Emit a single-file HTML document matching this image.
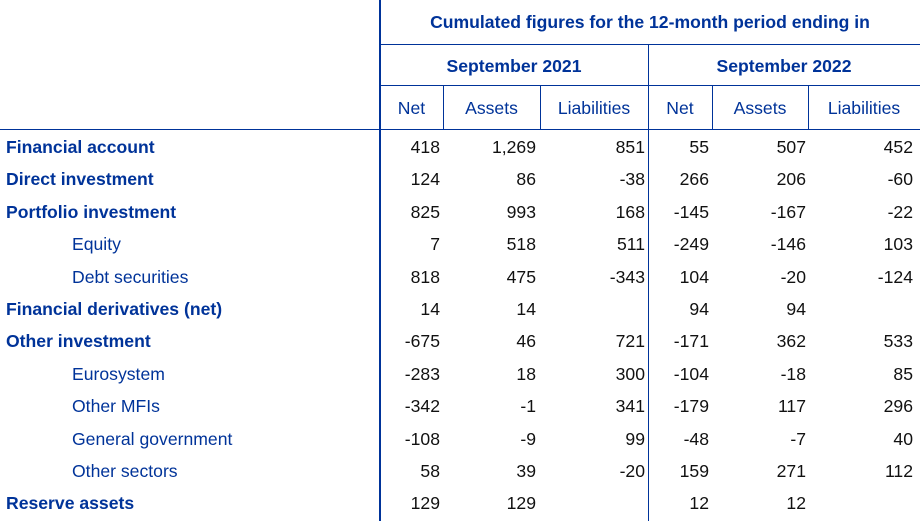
<!DOCTYPE html>
<html><head><meta charset="utf-8"><style>
body{margin:0;width:920px;height:521px;background:#fff;overflow:hidden;font-family:"Liberation Sans",Arial,sans-serif;position:relative}
.l{position:absolute;background:#003399}
.t{position:absolute;font-size:17.6px;line-height:20px;white-space:nowrap}
.h{color:#003399;font-weight:bold;text-align:center}
.s{color:#003399;text-align:center}
.lab{color:#003399;left:6px}
.b{font-weight:bold}
.sub{left:72px}
.n{color:#111;text-align:right}
</style></head><body>
<div class="l" style="left:379px;top:0;width:2px;height:521px"></div>
<div class="l" style="left:648px;top:44px;width:1px;height:477px"></div>
<div class="l" style="left:380px;top:44px;width:540px;height:1px"></div>
<div class="l" style="left:380px;top:85px;width:540px;height:1px"></div>
<div class="l" style="left:0;top:129px;width:920px;height:1px"></div>
<div class="l" style="left:443px;top:85px;width:1px;height:44px"></div>
<div class="l" style="left:540px;top:85px;width:1px;height:44px"></div>
<div class="l" style="left:712px;top:85px;width:1px;height:44px"></div>
<div class="l" style="left:808px;top:85px;width:1px;height:44px"></div>
<div class="t h" style="left:380px;width:540px;top:12px">Cumulated figures for the 12-month period ending in</div>
<div class="t h" style="left:380px;width:268px;top:56px">September 2021</div>
<div class="t h" style="left:648px;width:272px;top:56px">September 2022</div>
<div class="t s" style="left:380px;width:63px;top:98px">Net</div>
<div class="t s" style="left:443px;width:97px;top:98px">Assets</div>
<div class="t s" style="left:540px;width:108px;top:98px">Liabilities</div>
<div class="t s" style="left:648px;width:64px;top:98px">Net</div>
<div class="t s" style="left:712px;width:96px;top:98px">Assets</div>
<div class="t s" style="left:808px;width:112px;top:98px">Liabilities</div>
<div id="rows"></div>
<script>
const labels=["Financial account","Direct investment","Portfolio investment","Equity","Debt securities","Financial derivatives (net)","Other investment","Eurosystem","Other MFIs","General government","Other sectors","Reserve assets"];
const bold=[1,1,1,0,0,1,1,0,0,0,0,1];
const net21=["418","124","825","7","818","14","-675","-283","-342","-108","58","129"];
const ass21=["1,269","86","993","518","475","14","46","18","-1","-9","39","129"];
const lia21=["851","-38","168","511","-343","","721","300","341","99","-20",""];
const net22=["55","266","-145","-249","104","94","-171","-104","-179","-48","159","12"];
const ass22=["507","206","-167","-146","-20","94","362","-18","117","-7","271","12"];
const lia22=["452","-60","-22","103","-124","","533","85","296","40","112",""];
const cols=[[net21,440],[ass21,536],[lia21,645],[net22,709],[ass22,806],[lia22,913]];
const colNames=["net-2021","assets-2021","liab-2021","net-2022","assets-2022","liab-2022"];
const root=document.getElementById('rows');
labels.forEach((lb,i)=>{
  const top=137+i*32.4;
  const d=document.createElement('div');
  d.className='t lab '+(bold[i]?'b':'sub');
  d.style.top=top+'px';
  d.textContent=lb;
  
  
  root.appendChild(d);
  cols.forEach((c,j)=>{
    const v=c[0][i]; if(!v) return;
    const e=document.createElement('div');
    e.className='t n';
    e.style.top=top+'px';
    e.style.left=(c[1]-100)+'px';
    e.style.width='100px';
    e.textContent=v;
    
    
    root.appendChild(e);
  });
});
</script>
</body></html>
